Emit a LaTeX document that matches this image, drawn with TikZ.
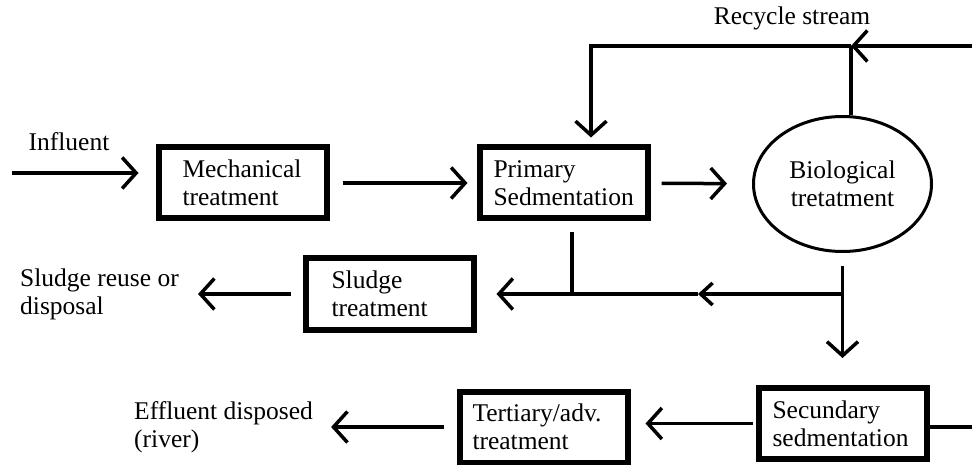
\documentclass[tikz,border=0pt]{standalone}
\usepackage{fontspec}
\setmainfont{Liberation Serif}
\usetikzlibrary{shapes.geometric, arrows.meta}
\tikzstyle{stage} = [rectangle, draw=black, line width=6pt, minimum width=168pt, minimum height=71pt, align=left, inner ysep=2pt]
\tikzstyle{tank} = [ellipse, draw=black, line width=3pt, minimum width=178pt, minimum height=135pt, align=center, inner sep=0pt]
\tikzstyle{note} = [align=left, inner sep=0pt]
\tikzstyle{pipe} = [line width=3.5pt]
\tikzstyle{flow} = [pipe, -{Straight Barb[length=14pt,width=31pt]}]
\tikzstyle{smallflow} = [pipe, -{Straight Barb[length=12pt,width=22pt]}]

\begin{document}
\begin{tikzpicture}[x=1pt, y=-1pt, font=\fontsize{25.5}{28}\selectfont]
        \useasboundingbox (0,0) rectangle (972,465);
        \node (mech) [stage, text width=120pt, inner xsep=24pt] at (242.5,183) {Mechanical\\treatment};
        \node (prim) [stage, text width=140pt, inner xsep=14pt] at (563.5,183) {Primary\\Sedmentation};
        \node (bio) [tank] at (842.5,184) {Biological\\tretatment};
        \node (sludge) [stage, text width=116pt, inner xsep=26pt] at (389.5,294) {Sludge\\treatment};
        \node (sec) [stage, text width=140pt, inner xsep=14pt] at (842.5,423.5) {Secundary\\sedmentation};
        \node (ter) [stage, text width=142pt, inner xsep=13pt] at (543.5,427) {Tertiary/adv.\\treatment};
        \node (infl) [note] at (69,142) {Influent};
        \node (recy) [note] at (792,18) {Recycle stream};
        \node (reuse) [note, anchor=west] at (20,294) {Sludge reuse or\\disposal};
        \node (eff) [note, anchor=west] at (134,427) {Effluent disposed\\(river)};
        \coordinate (in) at (12,173);
        \coordinate (rin) at (972,46);
        \coordinate (rj) at (851,46);
        \coordinate (rc) at (591,46);
        \coordinate (sj) at (572,294);
        \coordinate (mid) at (698,294);
        \coordinate (bj) at (842.5,294);
        \coordinate (sout) at (972,427);
        \draw [flow, shorten >=17pt] (in) -- (in -| mech.west);
        \draw [flow, shorten <=13pt, shorten >=9pt] (mech) -- (prim);
        \draw [flow, shorten <=11pt, shorten >=25pt] (prim) -- (bio);
        \draw [flow] (rin) -- (rj);
        \draw [flow, shorten >=7pt] (rj) -- (rc) -- (rc |- prim.north);
        \draw [pipe] (rj) -- (rj |- bio.north);
        \draw [pipe, shorten <=11pt] (prim.south -| sj) -- (sj);
        \draw [flow, shorten >=20pt] (sj) -- (sj -| sludge.east);
        \draw [smallflow] (bj) -- (mid);
        \draw [pipe] (mid) -- (sj);
        \draw [flow, shorten <=13pt, shorten >=27pt] (bio) -- (sec);
        \draw [flow, shorten <=3pt, shorten >=15pt] (sec.west) -- (sec.west -| ter.east);
        \draw [pipe] (sout -| sec.east) -- (sout);
        \draw [flow, shorten <=12pt, shorten >=19pt] (sludge.west) -- (sludge.west -| reuse.east);
        \draw [flow, shorten <=13pt, shorten >=18pt] (ter.west) -- (ter.west -| eff.east);
    \end{tikzpicture}
\end{document}
